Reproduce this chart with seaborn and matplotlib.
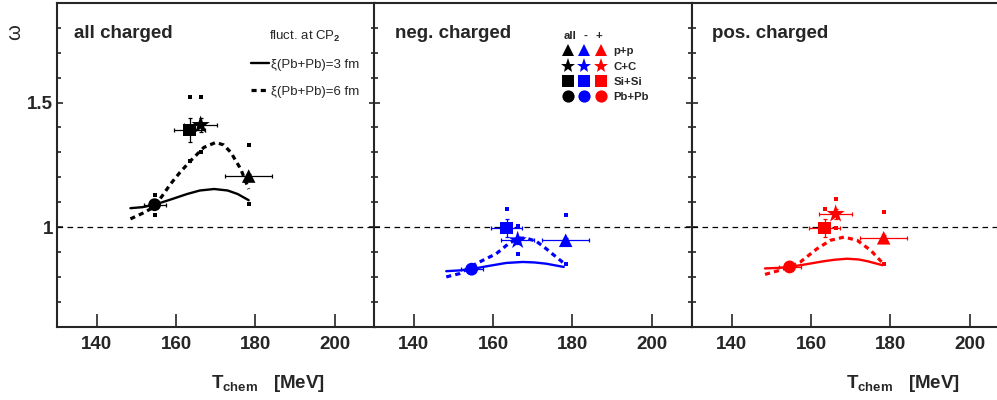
import numpy as np
import pandas as pd
import matplotlib
matplotlib.use("Agg")
import matplotlib.pyplot as plt
import seaborn as sns
from matplotlib.ticker import MultipleLocator, FixedLocator, FuncFormatter
from matplotlib.lines import Line2D

# ---------------- data ----------------
systems = ["p+p", "C+C", "Si+Si", "Pb+Pb"]
T_chem = [178.3, 166.2, 163.4, 154.6]
T_err = [5.9, 4.2, 4.0, 2.8]

# all charged
omega_all = [1.205, 1.410, 1.390, 1.090]
stat_all = [0.010, 0.030, 0.050, 0.010]
syshi_all = [1.331, 1.524, 1.524, 1.127]
syslo_all = [1.091, 1.300, 1.265, 1.050]
# negatively charged
omega_neg = [0.947, 0.947, 0.997, 0.831]
stat_neg = [0.010, 0.015, 0.035, 0.010]
syshi_neg = [1.050, 1.004, 1.073, np.nan]
syslo_neg = [0.853, 0.891, np.nan, np.nan]
# positively charged
omega_pos = [0.957, 1.053, 0.997, 0.840]
stat_pos = [0.010, 0.020, 0.035, 0.010]
syshi_pos = [1.060, 1.113, 1.073, np.nan]
syslo_pos = [0.853, 0.995, np.nan, np.nan]

# model curves (fluctuations at CP2)
T3_all = [148.5, 151.5, 154.6, 158.5, 162.8, 166.0, 169.6, 173.0, 175.5, 178.3]
w3_all = [1.076, 1.080, 1.090, 1.110, 1.133, 1.147, 1.153, 1.147, 1.133, 1.108]
T6_all = [148.5, 151.5, 154.4, 156.5, 158.6, 161.0, 163.7, 167.0, 170.0, 172.0, 173.8, 176.3, 178.3]
w6_all = [1.033, 1.055, 1.080, 1.125, 1.173, 1.220, 1.267, 1.320, 1.340, 1.330, 1.300, 1.233, 1.153]

T3_neg = [148.2, 151.5, 154.5, 158.5, 163.3, 167.5, 170.5, 173.4, 177.8]
w3_neg = [0.823, 0.826, 0.831, 0.843, 0.856, 0.860, 0.858, 0.853, 0.840]
T6_neg = [148.2, 151.5, 155.7, 160.8, 164.1, 166.7, 168.5, 170.9, 173.4, 175.9, 178.0]
w6_neg = [0.800, 0.813, 0.853, 0.893, 0.936, 0.956, 0.955, 0.943, 0.913, 0.880, 0.853]

T3_pos = [148.4, 151.5, 154.6, 158.5, 163.2, 166.0, 169.1, 172.0, 174.2, 178.0]
w3_pos = [0.834, 0.836, 0.840, 0.850, 0.863, 0.869, 0.873, 0.870, 0.863, 0.847]
T6_pos = [148.4, 152.2, 154.6, 157.3, 161.5, 164.9, 168.3, 171.6, 175.0, 178.2]
w6_pos = [0.810, 0.827, 0.840, 0.860, 0.913, 0.947, 0.960, 0.947, 0.907, 0.853]

panel_titles = ["all charged", "neg. charged", "pos. charged"]
panel_colors = ["black", "#0000ff", "#ff0000"]
x_ticks = [140, 160, 180, 200]

# ---------------- style ----------------
sns.set_style("ticks")
plt.rcParams["font.family"] = ["Liberation Sans", "DejaVu Sans"]
plt.rcParams["font.weight"] = "bold"
plt.rcParams["mathtext.fontset"] = "custom"
plt.rcParams["mathtext.rm"] = "Liberation Sans"
plt.rcParams["mathtext.bf"] = "Liberation Sans:bold"
plt.rcParams["mathtext.it"] = "Liberation Sans:italic"
plt.rcParams["axes.linewidth"] = 1.5

marker_map = {"p+p": "^", "C+C": "*", "Si+Si": "s", "Pb+Pb": "o"}
size_map = {"p+p": 95, "C+C": 190, "Si+Si": 80, "Pb+Pb": 85}

fig = plt.figure(figsize=(9.97, 4.0), dpi=100)
W, H = 997.0, 400.0
bottom = 1 - 326.7 / H
height = (326.7 - 3) / H
lefts = [57 / W, 374 / W, 692 / W]
width = 317.5 / W
axes = [fig.add_axes([l, bottom, width, height]) for l in lefts]

panels = [
    (omega_all, stat_all, syshi_all, syslo_all, T3_all, w3_all, T6_all, w6_all),
    (omega_neg, stat_neg, syshi_neg, syslo_neg, T3_neg, w3_neg, T6_neg, w6_neg),
    (omega_pos, stat_pos, syshi_pos, syslo_pos, T3_pos, w3_pos, T6_pos, w6_pos),
]

for i, (ax, color, data) in enumerate(zip(axes, panel_colors, panels)):
    omega, stat, syshi, syslo, T3, w3, T6, w6 = data
    ax.axhline(1.0, color="black", lw=0.9, ls=(0, (4.5, 3.5)), zorder=1)

    sns.lineplot(x=T3, y=w3, ax=ax, color=color, lw=1.7, sort=False,
                 estimator=None, zorder=2)
    sns.lineplot(x=T6, y=w6, ax=ax, color=color, lw=2.3, sort=False,
                 estimator=None, linestyle=(0, (1.6, 1.3)), zorder=2)

    ax.errorbar(T_chem, omega, xerr=T_err, yerr=stat, fmt="none",
                ecolor=color, elinewidth=0.9, capsize=1.6, capthick=0.9, zorder=3)

    df = pd.DataFrame({"T": T_chem, "omega": omega, "system": systems})
    sns.scatterplot(data=df, x="T", y="omega", style="system", markers=marker_map,
                    size="system", sizes=size_map, color=color, linewidth=0,
                    ax=ax, legend=False, zorder=4)

    dsys = pd.DataFrame({"T": T_chem * 2, "w": list(syshi) + list(syslo)}).dropna()
    sns.scatterplot(data=dsys, x="T", y="w", marker="s", s=6, color=color,
                    linewidth=0, ax=ax, legend=False, zorder=4)

    ax.set_xlim(130, 210)
    ax.set_ylim(0.6, 1.9)
    ax.set_xlabel("")
    ax.set_ylabel("")
    ax.xaxis.set_major_locator(FixedLocator(x_ticks))
    ax.yaxis.set_major_locator(MultipleLocator(0.5))
    ax.yaxis.set_minor_locator(MultipleLocator(0.1))
    ax.yaxis.set_major_formatter(FuncFormatter(lambda v, p: f"{v:g}"))
    ax.tick_params(axis="x", which="major", direction="in", length=9.5, width=1.2,
                   bottom=True, top=False, labelsize=13.5, pad=7)
    ax.tick_params(axis="x", which="minor", bottom=False, top=False)
    ax.tick_params(axis="y", which="major", direction="in", length=4.5, width=1.2,
                   left=True, right=True, labelsize=13.5, pad=3)
    ax.tick_params(axis="y", which="minor", direction="in", length=3, width=1.2,
                   left=True, right=True)
    if i > 0:
        ax.tick_params(axis="y", labelleft=False)
    for sp in ax.spines.values():
        sp.set_visible(True)
        sp.set_linewidth(1.5)

# panel titles
title_x = [0.052, 0.066, 0.062]
for ax, t, tx in zip(axes, panel_titles, title_x):
    ax.text(tx, 0.907, t, transform=ax.transAxes, fontsize=13.5,
            fontweight="bold", ha="left", va="center")

# x-axis titles (left and right panels)
for ax in (axes[0], axes[2]):
    ax.text(0.845, -0.175, r"$\mathbf{T}_{\mathbf{chem}}$   [MeV]",
            transform=ax.transAxes, fontsize=13.5, fontweight="bold",
            ha="right", va="center")

# y-axis title
fig.text(15 / W, 1 - 32 / H, "ω", rotation=90, fontsize=14.5, fontweight="normal",
         ha="center", va="center")

# legend: model curves
h_lines = [Line2D([], [], color="black", lw=1.7),
           Line2D([], [], color="black", lw=2.3, ls=(0, (1.6, 1.3)))]
leg1 = axes[0].legend(h_lines, ["ξ(Pb+Pb)=3 fm", "ξ(Pb+Pb)=6 fm"],
                      title=r"fluct. at CP$_{2}$", loc="upper left",
                      bbox_to_anchor=(0.611, 0.919), frameon=False, borderpad=0,
                      borderaxespad=0, handlelength=1.33, handletextpad=0.15,
                      labelspacing=1.1,
                      prop={"size": 9.5, "weight": "normal"},
                      title_fontproperties={"size": 9.5, "weight": "normal"})

# legend: systems x charge
handles, labels = [], []
for ci, col in enumerate(panel_colors):
    for s in systems:
        ms = 11 if s == "C+C" else 8.8
        handles.append(Line2D([], [], ls="none", marker=marker_map[s],
                              color=col, markersize=ms, markeredgewidth=0))
        labels.append(s if ci == 2 else "")
leg2 = axes[1].legend(handles, labels, ncol=3, loc="upper left",
                      bbox_to_anchor=(0.5975, 0.866), frameon=False, borderpad=0,
                      borderaxespad=0, handlelength=0.7, handletextpad=0.75,
                      columnspacing=0.0, labelspacing=0.45,
                      prop={"size": 8.2, "weight": "bold"})
for hx, ht in zip([0.619, 0.667, 0.708], ["all", "-", "+"]):
    axes[1].text(hx, 0.898, ht, transform=axes[1].transAxes, fontsize=8.2,
                 fontweight="bold", ha="center", va="center")

fig.savefig("out.png", dpi=100)
